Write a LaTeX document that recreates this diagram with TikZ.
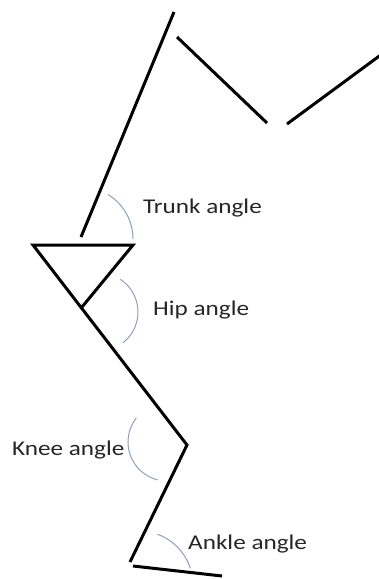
\documentclass[tikz,border=0pt]{standalone}
\usepackage{graphicx}
\usepackage{fontspec}
\setmainfont{Carlito}
\usetikzlibrary{calc}
\definecolor{arcblue}{RGB}{140,160,186}
\newcommand{\widetext}[1]{\scalebox{1.2}[1]{#1}}
\tikzset{
  limb/.style={line width=3pt},
  anglearc/.style={draw=arcblue, line width=1pt},
  lbl/.style={anchor=base west, inner sep=0pt, text=black!85, font=\fontsize{21}{25}\selectfont}
}
\begin{document}
\begin{tikzpicture}[x=1pt,y=1pt]
\useasboundingbox (0,0) rectangle (378,-579);
% joints
\coordinate (neck) at (174,-12);
\coordinate (base) at (81,-237);
\coordinate (sh) at (177,-37);
\coordinate (el) at (267,-123);
\coordinate (fa) at (287,-124);
\coordinate (wr) at (380,-55.5);
\coordinate (pl) at (33,-245);
\coordinate (pr) at (133,-245);
\coordinate (hip) at (82,-307);
\coordinate (knee) at (187,-445);
\coordinate (ankle) at (130,-562);
\coordinate (heel) at (133,-566);
\coordinate (toe) at (222,-576);
% segments
\draw[limb] (base) -- (neck);
\draw[limb] (sh) -- (el);
\draw[limb] (fa) -- (wr);
\draw[limb] (hip) -- (pr) -- (pl) -- (knee) -- (ankle);
\draw[limb] (heel) -- (toe);
% angles
\draw[anglearc] ($(81,-239)+(58.7:52)$) arc[start angle=58.7, end angle=0, radius=52];
\draw[anglearc] ($(99,-312)+(57:39)$) arc[start angle=57, end angle=-52, radius=39];
\draw[anglearc] ($(167,-442)+(142:39)$) arc[start angle=142, end angle=256, radius=39];
\draw[anglearc] ($(139,-585)+(70:54)$) arc[start angle=70, end angle=18, radius=54];
% labels
\node[lbl] (trunk) at (143,-213) {\widetext{Trunk angle}};
\node[lbl] (hipl) at (153,-315) {\widetext{Hip angle}};
\node[lbl] (kneel) at (12,-455) {\widetext{Knee angle}};
\node[lbl] (anklel) at (188,-549) {\widetext{Ankle angle}};
\end{tikzpicture}
\end{document}
